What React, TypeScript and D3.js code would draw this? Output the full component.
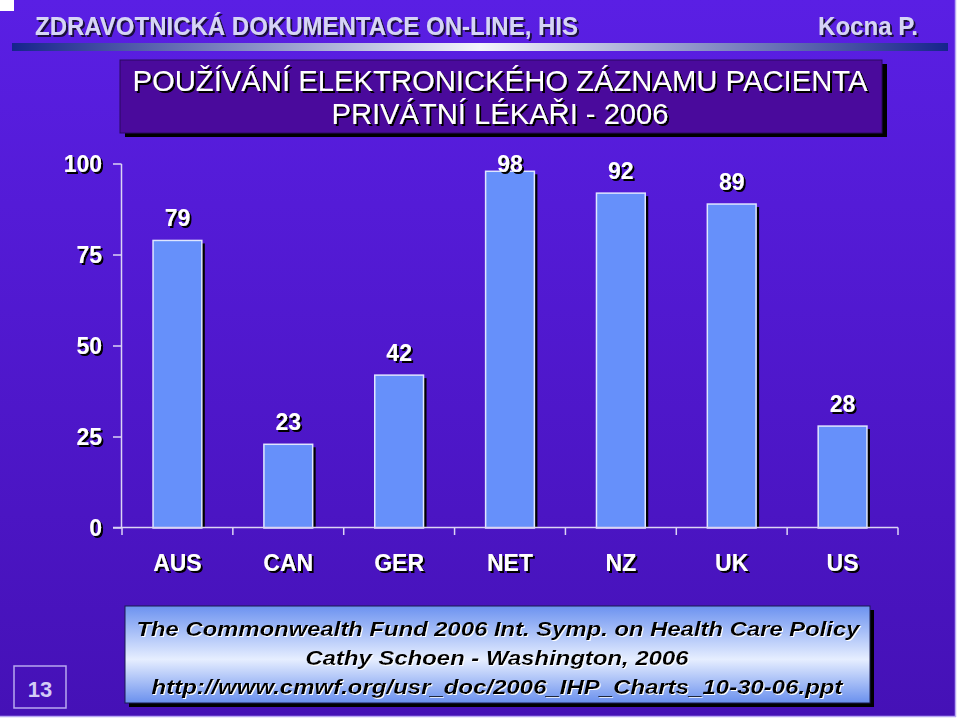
import React from "react";
import * as d3 from "d3";

const categories = ["AUS", "CAN", "GER", "NET", "NZ", "UK", "US"];
const values = [79, 23, 42, 98, 92, 89, 28];
const yTicks = [0, 25, 50, 75, 100];
const headerLeft = "ZDRAVOTNICKÁ DOKUMENTACE ON-LINE, HIS";
const headerRight = "Kocna P.";
const titleLines = ["POUŽÍVÁNÍ ELEKTRONICKÉHO ZÁZNAMU PACIENTA", "PRIVÁTNÍ LÉKAŘI - 2006"];
const footerLines = [
  "The Commonwealth Fund 2006 Int. Symp. on Health Care Policy",
  "Cathy Schoen - Washington, 2006",
  "http://www.cmwf.org/usr_doc/2006_IHP_Charts_10-30-06.ppt",
];
const slideNumber = "13";

const W = 960;
const H = 720;

function Shadow({ id, dx, dy, color }: any) {
  return (
    <filter id={id} x="-10%" y="-30%" width="120%" height="160%">
      <feOffset in="SourceAlpha" dx={dx} dy={dy} result="off" />
      <feFlood floodColor={color} result="col" />
      <feComposite in="col" in2="off" operator="in" result="sh" />
      <feMerge>
        <feMergeNode in="sh" />
        <feMergeNode in="SourceGraphic" />
      </feMerge>
    </filter>
  );
}

export default function App() {
  const x = d3.scaleBand<string>().domain(categories).range([122, 898]).paddingInner(0.56).paddingOuter(0.28);
  const y = d3.scaleLinear().domain([0, 100]).range([528, 164]);
  const step = x.step();
  const bw = x.bandwidth();
  const font = "Liberation Sans, Arial, sans-serif";
  const axisColor = "#dcd4f4";

  return (
    <svg width={W} height={H} style={{ position: "absolute", left: 0, top: 0 }} fontFamily={font}>
      <defs>
        <linearGradient id="bg" x1="0" y1="0" x2="0" y2="1">
          <stop offset="0" stopColor="#5a1fe4" />
          <stop offset="1" stopColor="#4511b6" />
        </linearGradient>
        <linearGradient id="hbar" x1="0" y1="0" x2="1" y2="0">
          <stop offset="0" stopColor="#16248c" />
          <stop offset="0.5" stopColor="#f4f4fc" />
          <stop offset="1" stopColor="#16248c" />
        </linearGradient>
        <linearGradient id="foot" x1="0" y1="0" x2="0" y2="1">
          <stop offset="0" stopColor="#6c92f0" />
          <stop offset="0.55" stopColor="#e6eeff" />
          <stop offset="1" stopColor="#6a90ee" />
        </linearGradient>
        <Shadow id="shBlack" dx={2} dy={2} color="#000000" />
        <Shadow id="shHead" dx={2} dy={2} color="#1a1040" />
        <Shadow id="shTitle" dx={1.5} dy={1.5} color="#000000" />
        <Shadow id="shWhite" dx={1} dy={1} color="#ffffff" />
      </defs>
      <rect x={0} y={0} width={W} height={H} fill="#ffffff" />
      <rect x={0} y={0} width={956} height={717} fill="url(#bg)" />
      <rect x={0} y={0} width={14} height={11} fill="#ffffff" />
      <line x1={955.5} y1={0} x2={955.5} y2={717} stroke="#b8a8f4" strokeWidth={1.5} />
      <line x1={0} y1={716.5} x2={956} y2={716.5} stroke="#b8a8f4" strokeWidth={1.5} />

      {/* header */}
      <text x={35} y={35} fill="#d6d4f6" filter="url(#shHead)" fontSize={25} fontWeight="bold"
        textLength={543} lengthAdjust="spacingAndGlyphs">{headerLeft}</text>
      <text x={818} y={35} fill="#d6d4f6" filter="url(#shHead)" fontSize={25} fontWeight="bold"
        textLength={100} lengthAdjust="spacingAndGlyphs">{headerRight}</text>
      <rect x={12} y={43} width={936} height={8} fill="url(#hbar)" />

      {/* title box */}
      <rect x={125} y={64} width={762} height={73} fill="#000" />
      <rect x={120} y={60} width={762} height={73} fill="#4a0a9c" stroke="#2a0860" strokeWidth={1} />
      <text x={500} y={91} fill="#ffffff" filter="url(#shTitle)" fontSize={29}
        textAnchor="middle" textLength={735} lengthAdjust="spacingAndGlyphs">{titleLines[0]}</text>
      <text x={500} y={124} fill="#ffffff" filter="url(#shTitle)" fontSize={29}
        textAnchor="middle" textLength={337} lengthAdjust="spacingAndGlyphs">{titleLines[1]}</text>

      {/* y axis */}
      <line x1={121.5} y1={y(100)} x2={121.5} y2={y(0)} stroke={axisColor} strokeWidth={1.5} />
      {yTicks.map((t) => (
        <g key={t}>
          <line x1={113} x2={121.5} y1={y(t)} y2={y(t)} stroke={axisColor} strokeWidth={1.5} />
          <text x={102} y={y(t) + 8} fill="#ffffff" filter="url(#shBlack)" fontSize={23} fontWeight="bold" textAnchor="end">
            {String(t)}
          </text>
        </g>
      ))}

      {/* bars */}
      {categories.map((c, i) => {
        const bx = x(c) as number;
        const by = y(values[i]);
        const bh = y(0) - by;
        const ly = Math.max(by - 14, y(100) + 8);
        return (
          <g key={c}>
            <rect x={bx + 3} y={by + 3} width={bw} height={bh - 3} fill="#000" />
            <rect x={bx} y={by} width={bw} height={bh} fill="#6690fa" stroke="#dfe6ff" strokeWidth={1.5} />
            <text x={bx + bw / 2} y={ly} fill="#ffffff" filter="url(#shBlack)" fontSize={23} fontWeight="bold" textAnchor="middle">
              {String(values[i])}
            </text>
            <text x={bx + bw / 2} y={571} fill="#ffffff" filter="url(#shBlack)" fontSize={23} fontWeight="bold" textAnchor="middle">
              {c}
            </text>
          </g>
        );
      })}

      {/* x axis */}
      <line x1={113} x2={898} y1={527.5} y2={527.5} stroke={axisColor} strokeWidth={1.5} />
      {d3.range(categories.length + 1).map((i) => (
        <line key={i} x1={122 + i * step} x2={122 + i * step} y1={527.5} y2={535} stroke={axisColor} strokeWidth={1.5} />
      ))}

      {/* footer */}
      <rect x={129} y={610} width={745} height={97} fill="#000" />
      <rect x={125} y={606} width={745} height={97} fill="url(#foot)" stroke="#1a1a50" strokeWidth={1} />
      <text x={498} y={636} fill="#000" filter="url(#shWhite)" fontSize={21} fontWeight="bold"
        fontStyle="italic" textAnchor="middle" textLength={723} lengthAdjust="spacingAndGlyphs">{footerLines[0]}</text>
      <text x={497} y={665} fill="#000" filter="url(#shWhite)" fontSize={21} fontWeight="bold"
        fontStyle="italic" textAnchor="middle" textLength={383} lengthAdjust="spacingAndGlyphs">{footerLines[1]}</text>
      <text x={497} y={694} fill="#000" filter="url(#shWhite)" fontSize={21} fontWeight="bold"
        fontStyle="italic" textAnchor="middle" textLength={691} lengthAdjust="spacingAndGlyphs">{footerLines[2]}</text>

      {/* slide number */}
      <rect x={14} y={666} width={52} height={42} fill="none" stroke="#b8a8f0" strokeWidth={1.5} />
      <text x={40} y={697} fill="#d4ccf6" fontSize={22} fontWeight="bold" textAnchor="middle">{slideNumber}</text>
    </svg>
  );
}
